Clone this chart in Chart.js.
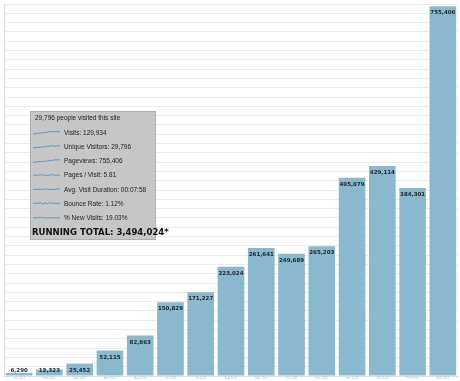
<!DOCTYPE html>
<html>
<head>
<meta charset="utf-8">
<script src="https://cdn.jsdelivr.net/npm/chart.js@4"></script>
<style>
  html, body { margin: 0; padding: 0; background: #fff; }
  #wrap { width: 460px; height: 381px; position: relative; }
</style>
</head>
<body>
<div id="wrap"><canvas id="output"></canvas></div>
<script>
// monthly pageviews
const months = ["Jan 2011", "Feb 2011", "Mar 2011", "Apr 2011", "May 2011", "Jun 2011", "Jul 2011",
  "Aug 2011", "Sep 2011", "Oct 2011", "Nov 2011", "Dec 2011", "Jan 2012", "Feb 2012", "Mar 2012"];
const pageviews = [6290, 13323, 25452, 52115, 82863, 150829, 171227, 223024, 261641, 249689,
  265203, 405079, 429114, 384301, 755406];

// summary box
const summaryTitle = "29,796 people visited this site";
const summaryRows = ["Visits: 129,934", "Unique Visitors: 29,796", "Pageviews: 755,406",
  "Pages / Visit: 5.81", "Avg. Visit Duration: 00:07:58", "Bounce Rate: 1.12%", "% New Visits: 19.03%"];
const sparklines = [
  [2, 2, 3, 3, 4, 4, 5, 6, 5, 6, 6, 5],
  [2, 3, 3, 3, 4, 4, 5, 5, 6, 5, 6, 5],
  [2, 2, 3, 3, 3, 4, 4, 5, 5, 6, 6, 6],
  [4, 4, 4, 5, 4, 4, 4, 4, 5, 4, 4, 4],
  [4, 4, 4, 4, 4, 5, 4, 4, 4, 4, 5, 4],
  [4, 5, 4, 6, 3, 5, 4, 6, 4, 5, 4, 5],
  [4, 4, 4, 5, 4, 4, 4, 4, 4, 4, 4, 4]
];
const runningTotal = "RUNNING TOTAL: 3,494,024*";

const barColor = "#8ab8cc";

// value labels at the top of each bar
const barLabels = {
  id: "barLabels",
  afterDatasetsDraw(chart) {
    const ctx = chart.ctx;
    const meta = chart.getDatasetMeta(0);
    const base = chart.scales.y.bottom;
    ctx.save();
    ctx.font = "bold 5.5px 'DejaVu Sans'";
    ctx.fillStyle = "#1a2430";
    ctx.textAlign = "center";
    ctx.textBaseline = "top";
    meta.data.forEach((bar, i) => {
      const y = Math.min(bar.y + 4, base - 8);
      ctx.fillText(pageviews[i].toLocaleString("en-US"), bar.x, y);
    });
    ctx.restore();
  }
};

// grey summary panel
const summaryBox = {
  id: "summaryBox",
  afterDraw(chart) {
    const ctx = chart.ctx;
    ctx.save();
    ctx.fillStyle = "#c6c6c6";
    ctx.strokeStyle = "#b0b0b0";
    ctx.lineWidth = 1;
    ctx.fillRect(30, 111, 125, 128);
    ctx.strokeRect(30.5, 111.5, 125, 128);

    ctx.fillStyle = "#222";
    ctx.textBaseline = "middle";
    ctx.font = "6.5px 'Liberation Sans'";
    ctx.fillText(summaryTitle, 35, 118);

    summaryRows.forEach((t, i) => {
      const y = 133 + i * 14.2;
      const s = sparklines[i];
      ctx.strokeStyle = "#3f8fc4";
      ctx.lineWidth = 0.8;
      ctx.beginPath();
      s.forEach((v, j) => {
        const x = 33 + j * 27 / (s.length - 1);
        const yy = y + 2 - v * 0.6;
        if (j === 0) ctx.moveTo(x, yy); else ctx.lineTo(x, yy);
      });
      ctx.stroke();
      ctx.fillStyle = "#222";
      ctx.font = "6.5px 'Liberation Sans'";
      ctx.fillText(t, 64, y);
    });

    ctx.font = "bold 8.5px 'DejaVu Sans'";
    ctx.fillStyle = "#111";
    ctx.fillText(runningTotal, 32, 233);
    ctx.restore();
  }
};

new Chart(document.getElementById("output"), {
  type: "bar",
  data: {
    labels: months,
    datasets: [{
      data: pageviews,
      backgroundColor: barColor,
      barPercentage: 0.88,
      categoryPercentage: 1
    }]
  },
  options: {
    responsive: true,
    maintainAspectRatio: false,
    animation: false,
    layout: { padding: { left: 4, right: 2, top: 4, bottom: 0 } },
    plugins: { legend: { display: false }, tooltip: { enabled: false } },
    scales: {
      x: {
        grid: { display: false, drawTicks: false },
        border: { color: "#ddd" },
        ticks: { color: "#bbb", font: { size: 3, lineHeight: 1 }, padding: 1, maxRotation: 0, autoSkip: false }
      },
      y: {
        min: 0,
        max: 760000,
        ticks: { display: false, stepSize: 19000 },
        grid: { color: "#ececec", drawTicks: false },
        border: { display: true, color: "#ddd" }
      }
    }
  },
  plugins: [barLabels, summaryBox]
});
</script>
</body>
</html>
